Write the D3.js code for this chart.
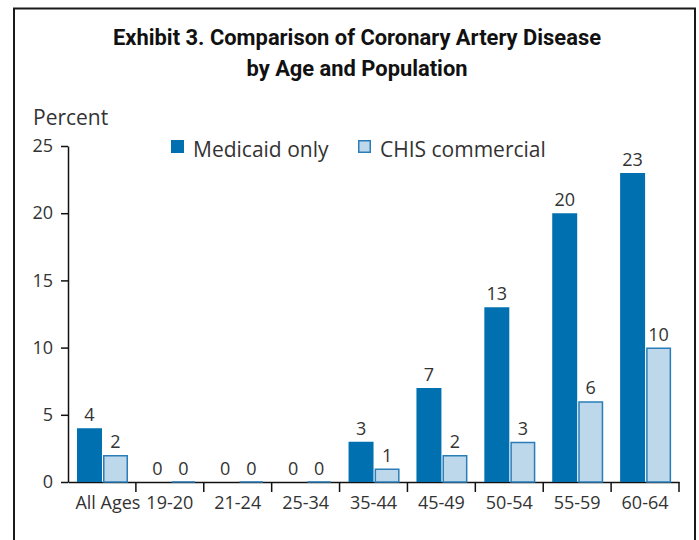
<!DOCTYPE html>
<html>
<head>
<meta charset="utf-8">
<script src="https://cdn.jsdelivr.net/npm/d3@7"></script>
<style>
  html, body { margin: 0; padding: 0; background: #fff; }
  svg { display: block; }
</style>
</head>
<body>
<svg id="chart" width="699" height="540"></svg>
<script>
const categories = ["All Ages", "19-20", "21-24", "25-34", "35-44", "45-49", "50-54", "55-59", "60-64"];
const seriesNames = ["Medicaid only", "CHIS commercial"];
const medicaidOnly = [4, 0, 0, 0, 3, 7, 13, 20, 23];
const chisCommercial = [2, 0, 0, 0, 1, 2, 3, 6, 10];
const yTicks = [0, 5, 10, 15, 20, 25];
const titleLines = ["Exhibit 3. Comparison of Coronary Artery Disease", "by Age and Population"];
const yLabel = "Percent";

const colors = { "Medicaid only": "#0070b0", "CHIS commercial": "#bdd8eb" };
const strokes = { "Medicaid only": "none", "CHIS commercial": "#2a7db8" };
const bodyFont = "'Open Sans', 'Noto Sans', sans-serif";

const svg = d3.select("#chart");

// frame
svg.append("rect")
  .attr("x", 14).attr("y", 8.5).attr("width", 681).attr("height", 560)
  .attr("fill", "none").attr("stroke", "#1a1a1a").attr("stroke-width", 2);

// title
const titleWidths = [488, 221];
svg.append("g").selectAll("text").data(titleLines).join("text")
  .attr("x", 357).attr("y", (d, i) => 45 + i * 31)
  .attr("text-anchor", "middle")
  .attr("font-family", "Roboto, 'Liberation Sans', sans-serif")
  .attr("font-weight", "bold")
  .attr("font-size", 22.5)
  .attr("textLength", (d, i) => titleWidths[i])
  .attr("lengthAdjust", "spacingAndGlyphs")
  .attr("fill", "#111")
  .text(d => d);

const x0 = d3.scaleBand().domain(categories).range([68, 679]).paddingInner(0).paddingOuter(0);
const x1 = d3.scaleBand().domain(seriesNames).range([9, 60]).paddingInner(0.04);
const y = d3.scaleLinear().domain([0, 25]).range([482, 146]);

const data = categories.map((c, i) => ({
  cat: c,
  values: [
    { key: seriesNames[0], value: medicaidOnly[i] },
    { key: seriesNames[1], value: chisCommercial[i] }
  ]
}));

// y axis
const yAxis = d3.axisLeft(y).tickValues(yTicks).tickSize(7).tickSizeOuter(0).tickPadding(8);
const yg = svg.append("g").attr("transform", "translate(68,0)").call(yAxis);
yg.select(".domain").attr("stroke", "#111").attr("stroke-width", 1.5);
yg.selectAll(".tick line").attr("stroke", "#111").attr("stroke-width", 1.5);
yg.selectAll(".tick text").attr("font-size", 18).attr("fill", "#333")
  .attr("font-family", bodyFont);

// x axis
const xAxis = d3.axisBottom(x0).tickSize(0).tickSizeOuter(0).tickPadding(14);
const xg = svg.append("g").attr("transform", `translate(0,${y(0)})`).call(xAxis);
xg.select(".domain").attr("stroke", "#111").attr("stroke-width", 1.5);
xg.selectAll(".tick text").attr("font-size", 18).attr("fill", "#333")
  .attr("font-family", bodyFont)
  .attr("dx", (d, i) => i === 0 ? 6 : 0);

// boundary ticks
svg.append("g").selectAll("line").data(categories).join("line")
  .attr("x1", d => x0(d) + x0.bandwidth()).attr("x2", d => x0(d) + x0.bandwidth())
  .attr("y1", y(0)).attr("y2", y(0) + 10)
  .attr("stroke", "#111").attr("stroke-width", 1.5);

// bars
const groups = svg.append("g").selectAll("g").data(data).join("g")
  .attr("transform", d => `translate(${x0(d.cat)},0)`);

groups.selectAll("path.bar").data(d => d.values).join("path")
  .attr("class", "bar")
  .attr("d", d => {
    const bx = x1(d.key), bw = x1.bandwidth();
    const top = y(d.value), bot = y(0);
    if (d.key === seriesNames[1]) {
      const inset = 0.75;
      return `M${bx + inset},${bot}V${Math.min(top + inset, bot)}H${bx + bw - inset}V${bot}Z`;
    }
    return `M${bx},${bot}V${top}H${bx + bw}V${bot}Z`;
  })
  .attr("fill", d => colors[d.key])
  .attr("stroke", d => strokes[d.key])
  .attr("stroke-width", 1.5);

// value labels
groups.selectAll("text.val").data(d => d.values).join("text")
  .attr("class", "val")
  .attr("x", d => x1(d.key) + x1.bandwidth() / 2)
  .attr("y", d => y(d.value) - 7)
  .attr("text-anchor", "middle")
  .attr("font-family", bodyFont)
  .attr("font-size", 18)
  .attr("fill", "#333")
  .text(d => d.value);

// y label
svg.append("text")
  .attr("x", 33).attr("y", 125).attr("font-size", 21).attr("fill", "#333")
  .attr("font-family", bodyFont)
  .text(yLabel);

// legend
const legendX = [171, 358];
const lg = svg.append("g").selectAll("g").data(seriesNames).join("g")
  .attr("transform", (d, i) => `translate(${legendX[i]},140)`);
lg.append("rect").attr("x", d => d === seriesNames[1] ? 0.75 : 0).attr("y", d => d === seriesNames[1] ? 0.75 : 0)
  .attr("width", d => d === seriesNames[1] ? 11.5 : 13).attr("height", d => d === seriesNames[1] ? 11.5 : 13)
  .attr("fill", d => colors[d]).attr("stroke", d => strokes[d]).attr("stroke-width", 1.5);
lg.append("text")
  .attr("x", 22).attr("y", 17).attr("font-size", 21).attr("fill", "#333")
  .attr("font-family", bodyFont)
  .text(d => d);
</script>
</body>
</html>
